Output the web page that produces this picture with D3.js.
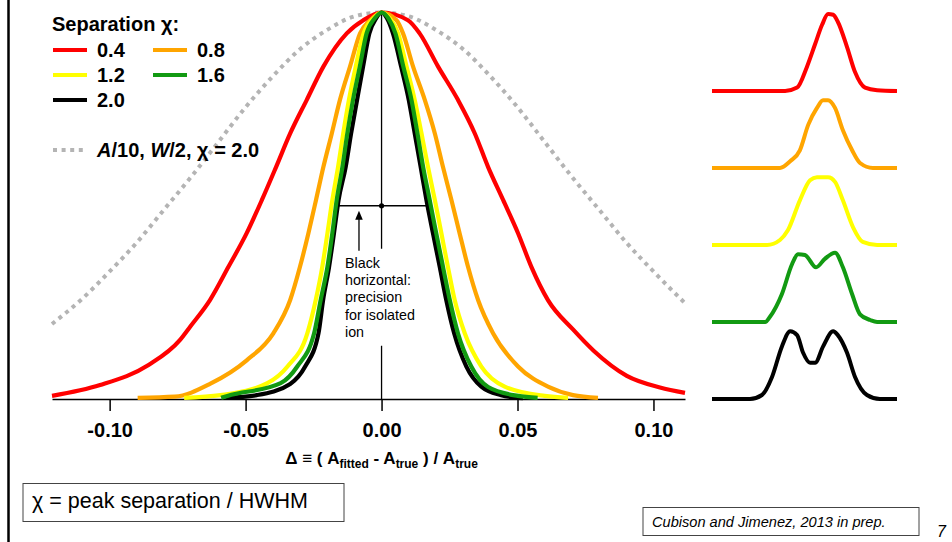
<!DOCTYPE html>
<html>
<head>
<meta charset="utf-8">
<script src="https://cdn.jsdelivr.net/npm/d3@7"></script>
<style>
body { margin: 0; background: #fff; }
svg { display: block; font-family: "Liberation Sans", Arial, sans-serif; }
</style>
</head>
<body>
<svg id="chart" width="952" height="542"></svg>
<script>
// separation values and their colours
let separations = [0.4, 0.8, 1.2, 1.6, 2.0]
let colors = ['#ff0000', '#ffa500', '#ffff00', '#129a12', '#000000']
let xTicks = [-0.10, -0.05, 0.00, 0.05, 0.10]

// distributions of delta (fitted - true)/true, normalised to peak = 1
let dist04 = [[-0.1212,0.008],[-0.1035,0.036],[-0.0857,0.088],[-0.0741,0.153],[-0.0704,0.187],[-0.0631,0.256],[-0.0563,0.342],[-0.0496,0.429],[-0.0440,0.515],[-0.0388,0.600],[-0.0336,0.687],[-0.0275,0.774],[-0.0214,0.860],[-0.0128,0.946],[-0.0067,0.980],[0,1],[0.0097,0.980],[0.0140,0.946],[0.0208,0.860],[0.0281,0.774],[0.0343,0.687],[0.0392,0.600],[0.0447,0.515],[0.0502,0.429],[0.0551,0.342],[0.0612,0.256],[0.0704,0.180],[0.0780,0.125],[0.0902,0.060],[0.1024,0.030],[0.1116,0.016]]
let dist08 = [[-0.0897,0.003],[-0.0760,0.006],[-0.0631,0.039],[-0.0496,0.100],[-0.0398,0.170],[-0.0336,0.256],[-0.0300,0.342],[-0.0269,0.429],[-0.0241,0.515],[-0.0214,0.600],[-0.0183,0.687],[-0.0153,0.774],[-0.0116,0.860],[-0.0079,0.946],[-0.0042,0.980],[0,1],[0.0055,0.980],[0.0079,0.946],[0.0116,0.860],[0.0159,0.774],[0.0196,0.687],[0.0226,0.600],[0.0257,0.515],[0.0287,0.429],[0.0318,0.342],[0.0355,0.256],[0.0410,0.170],[0.0502,0.084],[0.0612,0.032],[0.0704,0.010],[0.0796,0.003]]
let dist12 = [[-0.0726,0.003],[-0.0592,0.010],[-0.0420,0.041],[-0.0346,0.084],[-0.0273,0.170],[-0.0242,0.256],[-0.0218,0.342],[-0.0199,0.429],[-0.0181,0.515],[-0.0160,0.600],[-0.0141,0.687],[-0.0120,0.774],[-0.0095,0.860],[-0.0066,0.946],[-0.0030,0.985],[0,1],[0.0030,0.985],[0.0061,0.946],[0.0092,0.860],[0.0122,0.774],[0.0147,0.687],[0.0171,0.600],[0.0196,0.515],[0.0220,0.429],[0.0244,0.342],[0.0269,0.256],[0.0306,0.170],[0.0367,0.084],[0.0453,0.032],[0.0600,0.008],[0.0686,0.003]]
let dist16 = [[-0.0590,0.003],[-0.0567,0.008],[-0.0371,0.041],[-0.0310,0.084],[-0.0248,0.170],[-0.0224,0.256],[-0.0199,0.342],[-0.0181,0.429],[-0.0165,0.515],[-0.0144,0.600],[-0.0126,0.687],[-0.0105,0.774],[-0.0080,0.860],[-0.0055,0.946],[-0.0025,0.985],[0,1],[0.0025,0.985],[0.0051,0.946],[0.0080,0.860],[0.0110,0.774],[0.0132,0.687],[0.0153,0.600],[0.0177,0.515],[0.0201,0.429],[0.0226,0.342],[0.0251,0.256],[0.0281,0.170],[0.0330,0.084],[0.0392,0.031],[0.0502,0.008],[0.0574,0.003]]
let dist20 = [[-0.0575,0.003],[-0.0459,0.010],[-0.0336,0.039],[-0.0281,0.084],[-0.0232,0.170],[-0.0215,0.256],[-0.0193,0.342],[-0.0175,0.429],[-0.0158,0.515],[-0.0132,0.600],[-0.0112,0.687],[-0.0090,0.774],[-0.0068,0.860],[-0.0045,0.946],[-0.0020,0.985],[0,1],[0.0020,0.985],[0.0042,0.946],[0.0072,0.860],[0.0100,0.774],[0.0122,0.687],[0.0144,0.600],[0.0165,0.515],[0.0189,0.429],[0.0214,0.342],[0.0238,0.256],[0.0267,0.170],[0.0312,0.084],[0.0367,0.032],[0.0440,0.010],[0.0520,0.002]]
// A/10, W/2, chi = 2.0 (grey dotted)
let distWeak = [[-0.1212,0.194],[-0.11,0.26],[-0.10,0.33],[-0.09,0.405],[-0.08,0.49],[-0.07,0.575],[-0.06,0.665],[-0.05,0.755],[-0.04,0.835],[-0.03,0.905],[-0.02,0.955],[-0.01,0.99],[0,1],[0.01,0.99],[0.02,0.955],[0.03,0.905],[0.04,0.835],[0.05,0.755],[0.06,0.665],[0.07,0.575],[0.08,0.49],[0.09,0.405],[0.10,0.33],[0.1116,0.248]]

// precision for isolated ion (half width) and arrow position
let isolatedPrecision = [-0.0165, 0.0167]
let arrowDelta = -0.0083

// example spectra on the right, channel vs. signal
let spec04 = [[0,0],[15.8,0],[18.4,0.044],[20.5,0.31],[22.3,0.61],[23.8,0.86],[25.1,1.0],[26.2,0.99],[27.2,0.90],[29.2,0.57],[30.9,0.25],[33.1,0.044],[35.7,0.01],[40,0]]
let spec08 = [[0,0],[14.7,0],[16.9,0.087],[19.0,0.23],[20.8,0.56],[22.7,0.78],[24.0,0.88],[25.1,0.88],[26.6,0.78],[28.3,0.49],[30.3,0.23],[32.0,0.065],[34.8,0],[40,0]]
let spec12 = [[0,0],[11.9,0],[14.7,0.065],[16.4,0.19],[19.0,0.58],[21.2,0.84],[22.7,0.88],[25.1,0.88],[26.6,0.82],[28.3,0.58],[30.5,0.23],[32.6,0.04],[35.7,0],[40,0]]
let spec16 = [[0,0],[11.5,0],[12.5,0.065],[15.1,0.36],[17.3,0.75],[18.6,0.88],[20.1,0.87],[22.5,0.71],[24.4,0.82],[26.6,0.90],[28.3,0.71],[30.3,0.36],[32.0,0.10],[34.2,0.026],[35.7,0],[40,0]]
let spec20 = [[0,0],[8.2,0],[10.8,0.052],[13.0,0.29],[15.1,0.68],[16.9,0.88],[18.4,0.83],[19.7,0.60],[21.2,0.47],[22.3,0.47],[24.0,0.68],[26.2,0.88],[27.2,0.83],[29.2,0.60],[30.9,0.29],[33.5,0.052],[36.3,0],[40,0]]

let dists = [dist04, dist08, dist12, dist16, dist20]
let specs = [spec04, spec08, spec12, spec16, spec20]

let svg = d3.select('#chart')

let x = d3.scaleLinear().domain([-0.1212, 0.1116]).range([52, 685])
let y = d3.scaleLinear().domain([0, 1]).range([399, 12.5])

// slide border on the left
svg.append('line')
    .attr('x1', 8.5).attr('x2', 8.5).attr('y1', 0).attr('y2', 542)
    .attr('stroke', '#000').attr('stroke-width', 2.5)

// annotation lines (under the curves)
let x0 = x(0)
let yHalf = y(0.5)
svg.append('line')
    .attr('x1', x0).attr('x2', x0).attr('y1', y(1)).attr('y2', yHalf + 43)
    .attr('stroke', '#000').attr('stroke-width', 1.3)
svg.append('line')
    .attr('x1', x0).attr('x2', x0).attr('y1', yHalf + 140).attr('y2', y(0))
    .attr('stroke', '#000').attr('stroke-width', 1.3)
svg.append('line')
    .attr('x1', x(isolatedPrecision[0])).attr('x2', x(isolatedPrecision[1]))
    .attr('y1', yHalf).attr('y2', yHalf)
    .attr('stroke', '#000').attr('stroke-width', 1.3)
svg.append('circle')
    .attr('cx', x0).attr('cy', yHalf).attr('r', 2.6).attr('fill', '#000')

let ax = x(arrowDelta)
svg.append('line')
    .attr('x1', ax).attr('x2', ax).attr('y1', yHalf + 45).attr('y2', yHalf + 12)
    .attr('stroke', '#000').attr('stroke-width', 1.3)
svg.append('path')
    .attr('d', `M${ax - 3.8},${yHalf + 14}L${ax + 3.8},${yHalf + 14}L${ax},${yHalf + 5}Z`)
    .attr('fill', '#000')

let noteLines = ['Black', 'horizontal:', 'precision', 'for isolated', 'ion']
svg.append('g')
    .selectAll('text')
    .data(noteLines)
    .enter().append('text')
    .attr('x', ax - 14)
    .attr('y', (d, i) => yHalf + 62 + i * 17.3)
    .attr('font-size', 14.3)
    .attr('fill', '#000')
    .text(d => d)

// x axis
let xAxis = svg.append('g')
    .attr('transform', `translate(0,${y(0)})`)
    .call(d3.axisBottom(x).tickValues(xTicks).tickSize(12).tickSizeOuter(0).tickPadding(12)
        .tickFormat(d => d.toFixed(2)))
xAxis.select('.domain').attr('stroke', '#000').attr('stroke-width', 1.5)
xAxis.selectAll('.tick line').attr('stroke', '#000').attr('stroke-width', 1.5)
xAxis.selectAll('.tick text')
    .attr('font-family', '"Liberation Sans", Arial, sans-serif')
    .attr('font-size', 20).attr('font-weight', 'bold').attr('fill', '#000')

let title = svg.append('text')
    .attr('x', x0).attr('y', 464)
    .attr('text-anchor', 'middle')
    .attr('font-size', 17).attr('font-weight', 'bold')
title.append('tspan').text('\u0394 \u2261 ( A')
title.append('tspan').attr('font-size', 12).attr('dy', 4).text('fitted')
title.append('tspan').attr('dy', -4).text(' - A')
title.append('tspan').attr('font-size', 12).attr('dy', 4).text('true')
title.append('tspan').attr('dy', -4).text(' ) / A')
title.append('tspan').attr('font-size', 12).attr('dy', 4).text('true')

// curves
let line = d3.line()
    .x(d => x(d[0]))
    .y(d => y(d[1]))
    .curve(d3.curveMonotoneX)

svg.append('path')
    .datum(distWeak)
    .attr('d', line)
    .attr('fill', 'none')
    .attr('stroke', '#b4b4b4')
    .attr('stroke-width', 4)
    .attr('stroke-dasharray', '4 4.6')

let drawOrder = [0, 1, 2, 4, 3]
drawOrder.forEach(i => {
    svg.append('path')
        .datum(dists[i])
        .attr('d', line)
        .attr('fill', 'none')
        .attr('stroke', colors[i])
        .attr('stroke-width', 4.2)
        .attr('stroke-linejoin', 'round')
})

// legend
let legend = svg.append('g').attr('font-weight', 'bold').attr('font-size', 20).attr('fill', '#000')
legend.append('text').attr('x', 52).attr('y', 24).attr('dy', '0.35em').text('Separation \u03c7:')
separations.forEach((s, i) => {
    let col = i % 2
    let row = Math.floor(i / 2)
    let lx = 53 + col * 100
    let ly = 50 + row * 25
    legend.append('line')
        .attr('x1', lx).attr('x2', lx + 34).attr('y1', ly).attr('y2', ly)
        .attr('stroke', colors[i]).attr('stroke-width', 4)
    legend.append('text')
        .attr('x', lx + 44).attr('y', ly).attr('dy', '0.35em')
        .text(s.toFixed(1))
})
legend.append('line')
    .attr('x1', 53).attr('x2', 84).attr('y1', 150).attr('y2', 150)
    .attr('stroke', '#b4b4b4').attr('stroke-width', 4).attr('stroke-dasharray', '4 4.6')
let weakLabel = legend.append('text').attr('x', 97).attr('y', 150).attr('dy', '0.35em')
weakLabel.append('tspan').attr('font-style', 'italic').text('A')
weakLabel.append('tspan').text('/10, ')
weakLabel.append('tspan').attr('font-style', 'italic').text('W')
weakLabel.append('tspan').text('/2, \u03c7 = 2.0')

// example spectra
let sx = d3.scaleLinear().domain([0, 40]).range([712, 897])
let rowY = d3.scalePoint().domain(separations).range([91, 399])
let sh = d3.scaleLinear().domain([0, 1]).range([0, 77])

specs.forEach((spec, i) => {
    let base = rowY(separations[i])
    svg.append('path')
        .datum(spec)
        .attr('d', d3.line().x(d => sx(d[0])).y(d => base - sh(d[1])).curve(d3.curveMonotoneX))
        .attr('fill', 'none')
        .attr('stroke', colors[i])
        .attr('stroke-width', 4)
        .attr('stroke-linejoin', 'round')
})

// boxes at the bottom
svg.append('rect')
    .attr('x', 23).attr('y', 483.5).attr('width', 321).attr('height', 38)
    .attr('fill', '#fff').attr('stroke', '#444').attr('stroke-width', 1)
svg.append('text')
    .attr('x', 32).attr('y', 507.5)
    .attr('font-size', 21.5).attr('fill', '#000')
    .text('\u03c7 = peak separation / HWHM')

svg.append('rect')
    .attr('x', 643).attr('y', 507.5).attr('width', 276).attr('height', 28)
    .attr('fill', '#fff').attr('stroke', '#444').attr('stroke-width', 1)
svg.append('text')
    .attr('x', 652).attr('y', 527)
    .attr('font-size', 14.6).attr('font-style', 'italic').attr('fill', '#000')
    .text('Cubison and Jimenez, 2013 in prep.')

// page number, at the bottom edge of the slide
svg.append('text')
    .attr('x', 937).attr('y', 537)
    .attr('font-size', 16).attr('font-style', 'italic').attr('fill', '#000')
    .text('7')
</script>
</body>
</html>
